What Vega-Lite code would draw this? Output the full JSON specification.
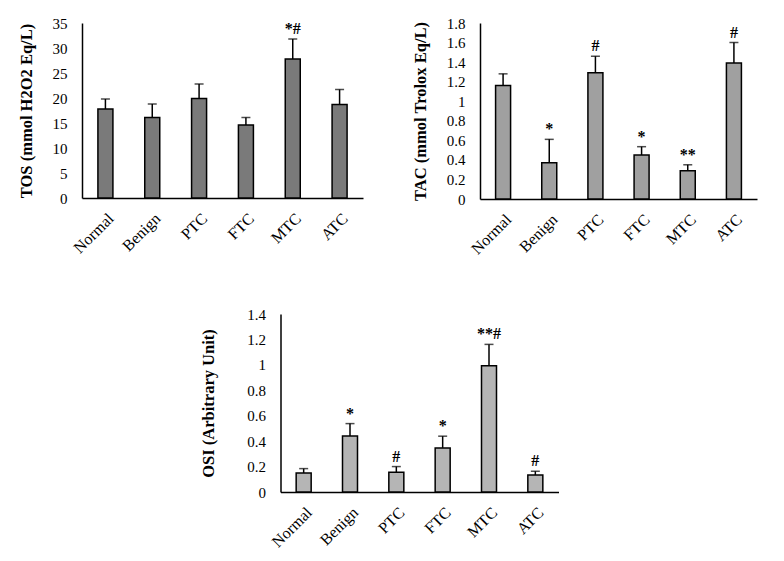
{
  "$schema": "https://vega.github.io/schema/vega-lite/v6.json",
  "background": "white",
  "padding": {"left": 18, "top": 16, "right": 5, "bottom": 5},
  "config": {
    "font": "Liberation Serif",
    "view": {"stroke": null},
    "axis": {
      "grid": false,
      "domainColor": "black",
      "domainWidth": 1.5,
      "ticks": false,
      "labelOverlap": false,
      "labelColor": "black",
      "labelFont": "Liberation Serif",
      "labelFontSize": 15,
      "titleFont": "Liberation Serif",
      "titleFontSize": 16.5,
      "titleFontWeight": "bold",
      "titleColor": "black"
    }
  },
  "center": true,
  "spacing": 50,
  "vconcat": [
    {
      "spacing": 49,
      "hconcat": [
        {
          "width": 281,
          "height": 175,
          "data": {"values": [
            {"group": "Normal", "value": 17.8, "err": 19.8, "sig": ""},
            {"group": "Benign", "value": 16.1, "err": 18.8, "sig": ""},
            {"group": "PTC", "value": 19.9, "err": 22.8, "sig": ""},
            {"group": "FTC", "value": 14.6, "err": 16.1, "sig": ""},
            {"group": "MTC", "value": 27.8, "err": 31.8, "sig": "*#"},
            {"group": "ATC", "value": 18.7, "err": 21.7, "sig": ""}
          ]},
          "encoding": {
            "x": {"field": "group", "type": "nominal", "sort": null,
                  "axis": {"title": null, "labelAngle": -45, "labelFontSize": 16, "labelPadding": 12}}
          },
          "layer": [
            {"mark": {"type": "bar", "size": 15, "fill": "#7a7a7a", "stroke": "black", "strokeWidth": 1.5},
             "encoding": {"y": {"field": "value", "type": "quantitative", "scale": {"domain": [0, 35]},
               "axis": {"title": "TOS (mmol H2O2 Eq/L)", "values": [0, 5, 10, 15, 20, 25, 30, 35], "labelOverlap": false, "labelPadding": 15, "titlePadding": 18}}}},
            {"mark": {"type": "rule", "color": "black", "strokeWidth": 1.5},
             "encoding": {"y": {"field": "value", "type": "quantitative", "scale": {"domain": [0, 35]},
               "axis": {"title": "TOS (mmol H2O2 Eq/L)", "values": [0, 5, 10, 15, 20, 25, 30, 35], "labelOverlap": false, "labelPadding": 15, "titlePadding": 18}}, "y2": {"field": "err"}}},
            {"mark": {"type": "tick", "color": "black", "size": 9, "thickness": 1.5},
             "encoding": {"y": {"field": "err", "type": "quantitative", "scale": {"domain": [0, 35]},
               "axis": {"title": "TOS (mmol H2O2 Eq/L)", "values": [0, 5, 10, 15, 20, 25, 30, 35], "labelOverlap": false, "labelPadding": 15, "titlePadding": 18}}}},
            {"mark": {"type": "text", "baseline": "bottom", "dy": -2, "fontSize": 16, "fontWeight": "bold", "color": "black"},
             "encoding": {"y": {"field": "err", "type": "quantitative", "scale": {"domain": [0, 35]},
               "axis": {"title": "TOS (mmol H2O2 Eq/L)", "values": [0, 5, 10, 15, 20, 25, 30, 35], "labelOverlap": false, "labelPadding": 15, "titlePadding": 18}}, "text": {"field": "sig"}}}
          ]
        },
        {
          "width": 277,
          "height": 176,
          "data": {"values": [
            {"group": "Normal", "value": 1.16, "err": 1.28, "sig": ""},
            {"group": "Benign", "value": 0.37, "err": 0.61, "sig": "*"},
            {"group": "PTC", "value": 1.29, "err": 1.46, "sig": "#"},
            {"group": "FTC", "value": 0.45, "err": 0.535, "sig": "*"},
            {"group": "MTC", "value": 0.29, "err": 0.35, "sig": "**"},
            {"group": "ATC", "value": 1.39, "err": 1.6, "sig": "#"}
          ]},
          "encoding": {
            "x": {"field": "group", "type": "nominal", "sort": null,
                  "axis": {"title": null, "labelAngle": -45, "labelFontSize": 16, "labelPadding": 12}}
          },
          "layer": [
            {"mark": {"type": "bar", "size": 15, "fill": "#a0a0a0", "stroke": "black", "strokeWidth": 1.5},
             "encoding": {"y": {"field": "value", "type": "quantitative", "scale": {"domain": [0, 1.8]},
               "axis": {"title": "TAC (mmol Trolox Eq/L)", "values": [0, 0.2, 0.4, 0.6, 0.8, 1, 1.2, 1.4, 1.6, 1.8], "format": "~g", "labelOverlap": false, "labelPadding": 15, "titlePadding": 18}}}},
            {"mark": {"type": "rule", "color": "black", "strokeWidth": 1.5},
             "encoding": {"y": {"field": "value", "type": "quantitative", "scale": {"domain": [0, 1.8]},
               "axis": {"title": "TAC (mmol Trolox Eq/L)", "values": [0, 0.2, 0.4, 0.6, 0.8, 1, 1.2, 1.4, 1.6, 1.8], "format": "~g", "labelOverlap": false, "labelPadding": 15, "titlePadding": 18}}, "y2": {"field": "err"}}},
            {"mark": {"type": "tick", "color": "black", "size": 9, "thickness": 1.5},
             "encoding": {"y": {"field": "err", "type": "quantitative", "scale": {"domain": [0, 1.8]},
               "axis": {"title": "TAC (mmol Trolox Eq/L)", "values": [0, 0.2, 0.4, 0.6, 0.8, 1, 1.2, 1.4, 1.6, 1.8], "format": "~g", "labelOverlap": false, "labelPadding": 15, "titlePadding": 18}}}},
            {"mark": {"type": "text", "baseline": "bottom", "dy": -2, "fontSize": 16, "fontWeight": "bold", "color": "black"},
             "encoding": {"y": {"field": "err", "type": "quantitative", "scale": {"domain": [0, 1.8]},
               "axis": {"title": "TAC (mmol Trolox Eq/L)", "values": [0, 0.2, 0.4, 0.6, 0.8, 1, 1.2, 1.4, 1.6, 1.8], "format": "~g", "labelOverlap": false, "labelPadding": 15, "titlePadding": 18}}, "text": {"field": "sig"}}}
          ]
        }
      ]
    },
    {
      "width": 278,
      "height": 178,
      "data": {"values": [
        {"group": "Normal", "value": 0.15, "err": 0.184, "sig": ""},
        {"group": "Benign", "value": 0.44, "err": 0.538, "sig": "*"},
        {"group": "PTC", "value": 0.155, "err": 0.2, "sig": "#"},
        {"group": "FTC", "value": 0.347, "err": 0.439, "sig": "*"},
        {"group": "MTC", "value": 0.993, "err": 1.161, "sig": "**#"},
        {"group": "ATC", "value": 0.134, "err": 0.163, "sig": "#"}
      ]},
      "encoding": {
        "x": {"field": "group", "type": "nominal", "sort": null,
              "axis": {"title": null, "labelAngle": -45, "labelFontSize": 16, "labelPadding": 12}}
      },
      "layer": [
        {"mark": {"type": "bar", "size": 15, "fill": "#b5b5b5", "stroke": "black", "strokeWidth": 1.5},
         "encoding": {"y": {"field": "value", "type": "quantitative", "scale": {"domain": [0, 1.4]},
           "axis": {"title": "OSI (Arbitrary Unit)", "values": [0, 0.2, 0.4, 0.6, 0.8, 1, 1.2, 1.4], "format": "~g", "labelOverlap": false, "labelPadding": 15, "titlePadding": 30}}}},
        {"mark": {"type": "rule", "color": "black", "strokeWidth": 1.5},
         "encoding": {"y": {"field": "value", "type": "quantitative", "scale": {"domain": [0, 1.4]},
           "axis": {"title": "OSI (Arbitrary Unit)", "values": [0, 0.2, 0.4, 0.6, 0.8, 1, 1.2, 1.4], "format": "~g", "labelOverlap": false, "labelPadding": 15, "titlePadding": 30}}, "y2": {"field": "err"}}},
        {"mark": {"type": "tick", "color": "black", "size": 9, "thickness": 1.5},
         "encoding": {"y": {"field": "err", "type": "quantitative", "scale": {"domain": [0, 1.4]},
           "axis": {"title": "OSI (Arbitrary Unit)", "values": [0, 0.2, 0.4, 0.6, 0.8, 1, 1.2, 1.4], "format": "~g", "labelOverlap": false, "labelPadding": 15, "titlePadding": 30}}}},
        {"mark": {"type": "text", "baseline": "bottom", "dy": -2, "fontSize": 16, "fontWeight": "bold", "color": "black"},
         "encoding": {"y": {"field": "err", "type": "quantitative", "scale": {"domain": [0, 1.4]},
           "axis": {"title": "OSI (Arbitrary Unit)", "values": [0, 0.2, 0.4, 0.6, 0.8, 1, 1.2, 1.4], "format": "~g", "labelOverlap": false, "labelPadding": 15, "titlePadding": 30}}, "text": {"field": "sig"}}}
      ]
    }
  ]
}
